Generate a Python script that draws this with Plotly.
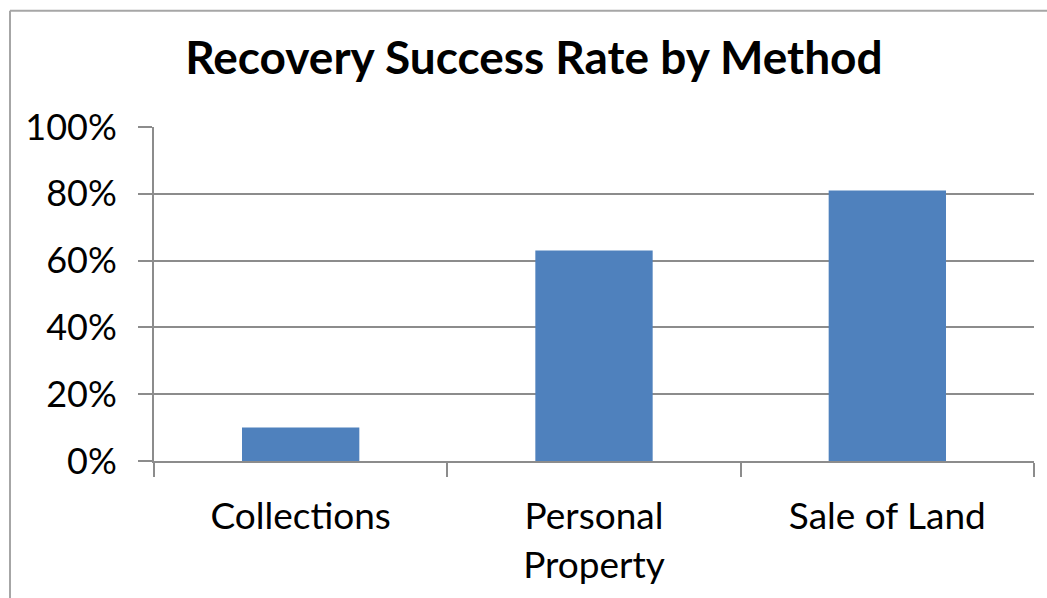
import plotly.graph_objects as go

categories = ["Collections", "Personal Property", "Sale of Land"]
tick_labels = ["Collections", "Personal<br>Property", "Sale of Land"]
success_rate = [0.10, 0.63, 0.81]
y_ticks = [0, 0.2, 0.4, 0.6, 0.8, 1.0]
y_tick_labels = ["0%", "20%", "40%", "60%", "80%", "100%"]

FONT = "Lato, 'Open Sans', sans-serif"
GRID = "#8c8c8c"

fig = go.Figure(
    go.Bar(
        x=categories,
        y=success_rate,
        marker=dict(color="#4f81bd", line=dict(width=0)),
        width=0.4,
    )
)

fig.update_layout(
    width=1047,
    height=598,
    margin=dict(l=154, r=13, t=127, b=134),
    paper_bgcolor="white",
    plot_bgcolor="white",
    showlegend=False,
    font=dict(family=FONT, color="black"),
    title=dict(
        text="<b>Recovery Success Rate by Method</b>",
        font=dict(family=FONT, size=46, color="black"),
        x=0.51,
        xanchor="center",
        y=0.903,
        yanchor="middle",
    ),
    bargap=0.6,
)

fig.update_xaxes(
    type="category",
    tickmode="array",
    tickvals=categories,
    ticktext=tick_labels,
    tickson="boundaries",
    ticks="outside",
    ticklen=14,
    tickwidth=2,
    tickcolor=GRID,
    showline=True,
    linecolor=GRID,
    linewidth=2,
    showgrid=False,
    tickfont=dict(family=FONT, size=37, color="black"),
    ticklabelstandoff=22,
)

fig.update_yaxes(
    range=[0, 1],
    tickmode="array",
    tickvals=y_ticks,
    ticktext=y_tick_labels,
    ticks="outside",
    ticklen=14,
    tickwidth=2,
    tickcolor=GRID,
    showline=True,
    linecolor=GRID,
    linewidth=2,
    showgrid=True,
    gridcolor=GRID,
    gridwidth=2,
    zeroline=False,
    tickfont=dict(family=FONT, size=36, color="black"),
    ticklabelstandoff=14,
)

# chart-area frame (top and left edges visible; right/bottom run off the page)
fig.add_shape(
    type="line", xref="paper", yref="paper",
    x0=(10 - 154) / 880, x1=1.2, y0=(463 - 10) / 336, y1=(463 - 10) / 336,
    line=dict(color="#a6a6a6", width=2),
)
fig.add_shape(
    type="line", xref="paper", yref="paper",
    x0=(10 - 154) / 880, x1=(10 - 154) / 880, y0=(463 - 10) / 336, y1=-1,
    line=dict(color="#a6a6a6", width=2),
)

fig.write_html("out.html")
